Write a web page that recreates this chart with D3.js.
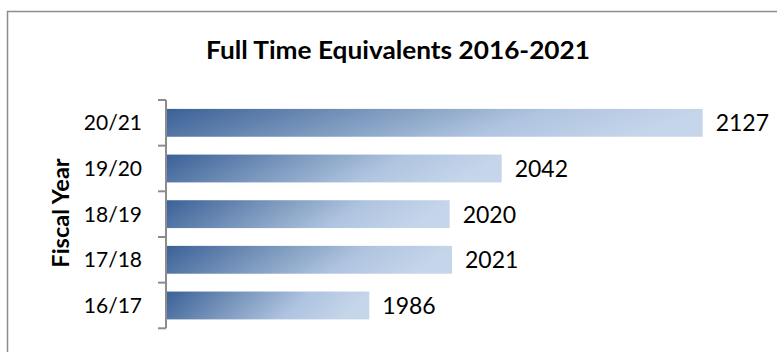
<!DOCTYPE html>
<html>
<head>
<meta charset="utf-8">
<script src="https://cdn.jsdelivr.net/npm/d3@7"></script>
<style>
  html, body { margin: 0; padding: 0; background: #fff; }
  svg { display: block; }
  text { font-family: Lato, "Open Sans", sans-serif; fill: #000; }
</style>
</head>
<body>
<svg id="chart" width="777" height="352"></svg>
<script>
const categories = ["20/21", "19/20", "18/19", "17/18", "16/17"];
const values = [2127, 2042, 2020, 2021, 1986];
const titleText = "Full Time Equivalents 2016-2021";
const yAxisTitle = "Fiscal Year";

const svg = d3.select("#chart");

// frame
svg.append("rect")
  .attr("x", 7.5).attr("y", 11.5)
  .attr("width", 800).attr("height", 400)
  .attr("fill", "#fff")
  .attr("stroke", "#8c8c8c").attr("stroke-width", 1.5);

const plot = { left: 166, right: 757, top: 100, bottom: 328.3 };

const x = d3.scaleLinear().domain([1900, 2150]).range([plot.left, plot.right]);
const y = d3.scaleBand().domain(categories).range([plot.top, plot.bottom])
  .paddingInner(0.39).paddingOuter(0.195);

// gradient
const defs = svg.append("defs");
const grad = defs.append("linearGradient")
  .attr("id", "barGrad")
  .attr("x1", "0").attr("y1", "0").attr("x2", "1").attr("y2", "0.15");
[[0, "#3a6197"], [0.25, "#6585b0"], [0.5, "#8ea8c9"], [0.7, "#afc4e0"], [1, "#c6d6ea"]]
  .forEach(([o, c]) => grad.append("stop").attr("offset", o).attr("stop-color", c));

// bars
svg.append("g").selectAll("rect")
  .data(categories)
  .join("rect")
  .attr("x", x(1900) + 1)
  .attr("y", d => y(d))
  .attr("width", (d, i) => x(values[i]) - x(1900) - 1)
  .attr("height", y.bandwidth())
  .attr("fill", "url(#barGrad)");

// value labels
svg.append("g").selectAll("text")
  .data(categories)
  .join("text")
  .attr("x", (d, i) => x(values[i]) + 13)
  .attr("y", d => y(d) + y.bandwidth() / 2 + 8.5)
  .attr("font-size", 23)
  .text((d, i) => values[i]);

// y axis
const yAxis = d3.axisLeft(y).tickSize(0).tickPadding(24);
const ag = svg.append("g").attr("transform", `translate(${plot.left},0)`).call(yAxis);
ag.select(".domain").remove();
ag.selectAll("text")
  .attr("font-size", 21)
  .attr("font-family", "Lato, sans-serif")
  .attr("fill", "#000")
  .attr("dy", "0.35em");

// axis line with boundary ticks
const axisG = svg.append("g").attr("stroke", "#8c8c8c").attr("stroke-width", 2);
axisG.append("line")
  .attr("x1", plot.left).attr("x2", plot.left)
  .attr("y1", plot.top).attr("y2", plot.bottom);
const bounds = categories.map(c => y(c) - y.step() * y.paddingInner() / 2);
bounds.push(plot.bottom);
axisG.selectAll("line.tick")
  .data(bounds)
  .join("line")
  .attr("class", "tick")
  .attr("x1", plot.left - 8).attr("x2", plot.left)
  .attr("y1", d => d).attr("y2", d => d);

// title
svg.append("text")
  .attr("x", 398).attr("y", 59)
  .attr("text-anchor", "middle")
  .attr("font-size", 25)
  .attr("font-weight", "bold")
  .attr("textLength", 384)
  .attr("lengthAdjust", "spacingAndGlyphs")
  .text(titleText);

// y axis title
svg.append("text")
  .attr("transform", `translate(68.5,213) rotate(-90)`)
  .attr("text-anchor", "middle")
  .attr("font-size", 23.5)
  .attr("font-weight", "bold")
  .text(yAxisTitle);
</script>
</body>
</html>
